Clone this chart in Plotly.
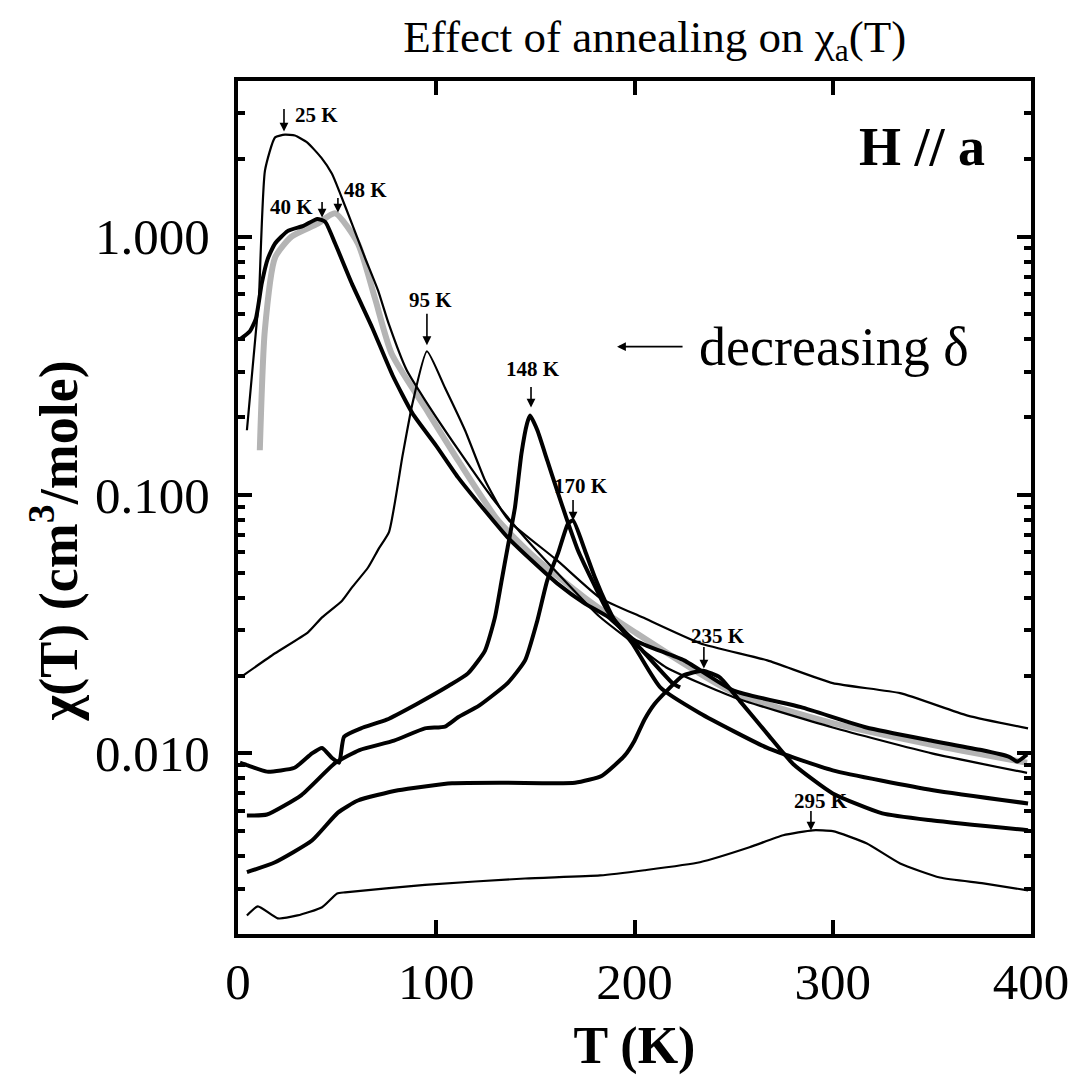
import math
import plotly.graph_objects as go

SERIF = "Liberation Serif, Times New Roman, serif"

# ---- data (T in K, chi in cm^3/mole) ----
T_25 = [4.5, 9.5, 10.5, 13.6, 18.7, 23.7, 28.7, 35, 42, 47.4, 51.5, 57.5, 64, 70.6, 76, 85, 94,
        111, 128, 145, 161, 182, 200, 216, 250, 300, 350, 398]
C_25 = [0.178, 0.47, 0.565, 1.8, 2.42, 2.48, 2.46, 2.31, 2.02, 1.75, 1.47, 1.12, 0.83, 0.62, 0.46,
        0.305, 0.235, 0.150, 0.098, 0.068, 0.050, 0.034, 0.0265, 0.0215, 0.0165, 0.0126, 0.0100, 0.0084]

T_40 = [1, 6, 9, 12, 15, 18.7, 25, 33, 40, 44, 49, 57.5, 67.6, 78, 88, 100, 111, 124, 136, 149,
        161, 175, 187, 200, 225, 250, 284, 317, 350, 375, 389, 393, 398]
C_40 = [0.40, 0.43, 0.48, 0.66, 0.82, 0.94, 1.05, 1.10, 1.17, 1.14, 0.94, 0.656, 0.446, 0.29, 0.207,
        0.155, 0.117, 0.088, 0.0685, 0.055, 0.0455, 0.038, 0.0336, 0.0274, 0.0229, 0.0175, 0.0151,
        0.0126, 0.0112, 0.0103, 0.0097, 0.0093, 0.0099]

T_48 = [11, 13.5, 18.7, 27, 40, 49, 60.5, 69, 77.5, 94.3, 111, 131, 150, 175, 200, 250, 300, 350, 398]
C_48 = [0.149, 0.43, 0.83, 1.0, 1.12, 1.23, 0.94, 0.58, 0.352, 0.218, 0.136, 0.080, 0.057, 0.040,
        0.0295, 0.0172, 0.0131, 0.0108, 0.0092]

T_95 = [2.5, 18.7, 35.3, 42.4, 52.5, 57.5, 65.6, 71, 76.2, 83, 88, 95.3, 104.4, 114.5, 124.6, 133,
        138, 161, 182.6, 204, 233, 267, 300, 334, 368, 398.5]
C_95 = [0.020, 0.0244, 0.0294, 0.0336, 0.039, 0.0439, 0.0524, 0.062, 0.072, 0.142, 0.226, 0.36,
        0.26, 0.178, 0.114, 0.087, 0.0776, 0.0558, 0.040, 0.0336, 0.0267, 0.0229, 0.0187, 0.0171,
        0.014, 0.0125]

T_148 = [1, 4.5, 14.6, 28.5, 37.3, 42.4, 47.4, 51, 53.5, 62, 75, 90, 106.5, 116, 124.6, 129.6, 133,
         136, 139.7, 143, 145.8, 147.3, 151, 156, 161, 166, 171.5, 178.6, 186, 199, 213, 233, 267,
         300, 350.6, 398.5]
C_148 = [0.0092, 0.0090, 0.0085, 0.0088, 0.0100, 0.0105, 0.0096, 0.0092, 0.0116, 0.0125, 0.0135,
         0.0155, 0.0183, 0.0204, 0.025, 0.0336, 0.0467, 0.0626, 0.0895, 0.145, 0.189, 0.203, 0.178,
         0.136, 0.104, 0.080, 0.061, 0.0467, 0.036, 0.0266, 0.018, 0.0143, 0.0105, 0.0086, 0.0072,
         0.0064]

T_170 = [4.5, 14.6, 32, 49.2, 61.3, 78.7, 94.3, 104.4, 111, 121.6, 136, 144.8, 151, 156, 161.4,
         166.5, 169, 175, 180, 186.6, 190, 204, 219.5, 223]
C_170 = [0.00575, 0.0058, 0.0069, 0.0092, 0.0103, 0.0112, 0.0125, 0.0127, 0.0138, 0.0153, 0.0187,
         0.0229, 0.0327, 0.0467, 0.0594, 0.0776, 0.0797, 0.061, 0.048, 0.0367, 0.0327, 0.025,
         0.0186, 0.018]

T_235 = [4.5, 18.7, 37.3, 50.4, 60.5, 80.7, 108, 136, 170, 183.6, 195, 200, 205, 210, 216.4, 224.5,
         234.5, 243, 253, 267, 280, 300, 325, 350.6, 398.5]
C_235 = [0.00347, 0.00379, 0.0046, 0.0059, 0.00657, 0.0072, 0.00766, 0.0077, 0.0077, 0.0082,
         0.0098, 0.0112, 0.0135, 0.0155, 0.0175, 0.0200, 0.0209, 0.0197, 0.016, 0.0119, 0.0091,
         0.0070, 0.00586, 0.0055, 0.00504]

T_295 = [4.5, 10, 20, 30, 42.4, 50, 54, 94.3, 144.8, 182.6, 205, 233, 258, 275, 290, 300, 317, 334,
         354, 376, 398.5]
C_295 = [0.00236, 0.00256, 0.0023, 0.00236, 0.00254, 0.00287, 0.00290, 0.0031, 0.00328, 0.00337,
         0.00353, 0.00379, 0.00433, 0.00482, 0.00504, 0.0050, 0.00449, 0.00375, 0.00331, 0.00314,
         0.00295]

# peak labels: (label, T of arrow tip, chi of arrow tip)
PEAK_LABELS = ["25 K", "40 K", "48 K", "95 K", "148 K", "170 K", "235 K", "295 K"]
PEAK_T = [23.2, 42.4, 50.4, 95.3, 147.8, 169, 235, 289]
PEAK_CHI = [2.55, 1.185, 1.24, 0.38, 0.218, 0.0796, 0.0213, 0.00503]

Y_MAJOR = [0.01, 0.1, 1.0]
Y_MAJOR_TEXT = ["0.010", "0.100", "1.000"]
Y_MINOR = [k * 10.0 ** e for e in (-3, -2, -1, 0) for k in range(2, 10)
           if 0.002 <= k * 10.0 ** e <= 4]

fig = go.Figure()

# grey (stippled) curve drawn first
fig.add_trace(go.Scatter(x=T_48, y=C_48, mode="lines",
                         line=dict(color="#b4b4b4", width=6, shape="spline", smoothing=0.6),
                         showlegend=False))

series = [
    (T_25, C_25, 2.2),
    (T_40, C_40, 4.0),
    (T_95, C_95, 2.2),
    (T_148, C_148, 4.0),
    (T_170, C_170, 4.0),
    (T_235, C_235, 4.0),
    (T_295, C_295, 2.2),
]
for tx, cy, w in series:
    fig.add_trace(go.Scatter(x=tx, y=cy, mode="lines",
                             line=dict(color="black", width=w, shape="spline", smoothing=0.5),
                             showlegend=False))

annotations = []
arrow_len = [24, 17, 16, 33, 22, 22, 23, 21]
label_dx = [9, -7, 4, 4, 2, 8, 14, 10]
label_dy = [-17, -11, -22, -45, -39, -35, -33, -30]
label_anchor = ["left", "right", "left", "center", "center", "center", "center", "center"]
for lab, t, c, al, dx, dy, anc in zip(PEAK_LABELS, PEAK_T, PEAK_CHI, arrow_len, label_dx,
                                       label_dy, label_anchor):
    annotations.append(dict(x=t, y=math.log10(c), xref="x", yref="y", text="", showarrow=True,
                            ax=0, ay=-al, arrowhead=2, arrowsize=1.1, arrowwidth=1.6,
                            arrowcolor="black"))
    annotations.append(dict(x=t, y=math.log10(c), xref="x", yref="y", text="<b>%s</b>" % lab,
                            showarrow=False, xshift=dx, yshift=-dy, xanchor=anc, yanchor="middle",
                            font=dict(family=SERIF, size=21, color="black")))

# "decreasing delta" with left arrow
annotations.append(dict(x=191.2, y=math.log10(0.375), xref="x", yref="y", text="", showarrow=True,
                        ax=67, ay=0, arrowhead=2, arrowsize=1.1, arrowwidth=1.6, arrowcolor="black"))
annotations.append(dict(x=231.5, y=math.log10(0.375), xref="x", yref="y", text="decreasing δ",
                        showarrow=False, xanchor="left", yanchor="middle",
                        font=dict(family=SERIF, size=54, color="black")))
annotations.append(dict(x=378, y=math.log10(2.03), xref="x", yref="y", text="<b>H // a</b>",
                        showarrow=False, xanchor="right", yanchor="middle", yshift=10,
                        font=dict(family=SERIF, size=54, color="black")))
# y-axis title (placed as a rotated annotation to match the original offset)
annotations.append(dict(x=-0.231, y=0.461, xref="paper", yref="paper",
                        text="<b>χ(T) (cm<sup>3</sup>/mole)</b>", showarrow=False, textangle=-90,
                        xanchor="center", yanchor="middle",
                        font=dict(family=SERIF, size=54, color="black")))

axis_common = dict(showline=True, linewidth=4, linecolor="black", mirror="allticks",
                   ticks="inside", tickwidth=4, tickcolor="black", showgrid=False, zeroline=False,
                   automargin=False,
                   tickfont=dict(family=SERIF, size=51, color="black"))

# page body has an 8px margin, so the figure is 8px smaller and margins are shifted
fig.update_layout(
    width=1069, height=1067,
    margin=dict(l=230, r=46, t=73, b=141),
    paper_bgcolor="white", plot_bgcolor="white",
    title=dict(text="Effect of annealing on χ<sub>a</sub>(T)", x=0.605, xref="container",
               xanchor="center", y=1 - 28 / 1067, yref="container", yanchor="middle",
               font=dict(family=SERIF, size=45, color="black")),
    xaxis=dict(range=[0, 400], tickvals=[0, 100, 200, 300, 400], ticklen=14,
               ticklabelstandoff=0,
               title=dict(text="<b>T (K)</b>", standoff=21,
                          font=dict(family=SERIF, size=52, color="black")),
               **axis_common),
    yaxis=dict(type="log", range=[math.log10(0.002), math.log10(4)], tickvals=Y_MAJOR,
               ticktext=Y_MAJOR_TEXT, ticklen=14, ticklabelstandoff=14,
               minor=dict(tickvals=Y_MINOR, ticks="inside", ticklen=7, tickwidth=3.5,
                          tickcolor="black"),
               **axis_common),
    annotations=annotations,
)

fig.write_html("out.html")
